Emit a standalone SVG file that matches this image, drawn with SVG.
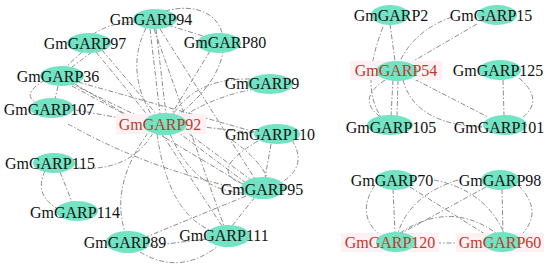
<svg xmlns="http://www.w3.org/2000/svg" width="550" height="269" viewBox="0 0 550 269">
<style>
.e{fill:none;stroke:#8c8c8c;stroke-width:1;stroke-dasharray:5 2 1.5 2}
.n{fill:#72e3c3}
.hl{fill:#fff0f4}
.t{font-family:"Liberation Serif","Times New Roman",serif;font-size:16px;fill:#111;text-anchor:middle}
.r{fill:#c0392b}
</style>
<rect width="550" height="269" fill="#fff"/>
<g id="edges">
<path class="e" d="M137,22 Q110,22 92,35"/>
<path class="e" d="M168,25 L206,37"/>
<path class="e" d="M165,11 C230,-6 250,60 178,115"/>
<path class="e" d="M150,29 L160,114"/>
<path class="e" d="M156,29 L166,114"/>
<path class="e" d="M146,28 Q125,70 152,116"/>
<path class="e" d="M160,29 L255,179"/>
<path class="e" d="M154,29 L224,226"/>
<path class="e" d="M210,51 L171,115"/>
<path class="e" d="M250,79 Q195,78 172,116"/>
<path class="e" d="M255,89 Q215,96 182,117"/>
<path class="e" d="M96,52 L150,118"/>
<path class="e" d="M102,50 L157,115"/>
<path class="e" d="M82,52 L66,67"/>
<path class="e" d="M92,52 L72,67"/>
<path class="e" d="M70,83 L146,120"/>
<path class="e" d="M72,86 L148,127"/>
<path class="e" d="M75,84 L246,186"/>
<path class="e" d="M78,82 L255,132"/>
<path class="e" d="M58,86 L55,99"/>
<path class="e" d="M45,80 Q18,96 40,104"/>
<path class="e" d="M76,110 L142,122"/>
<path class="e" d="M68,124 Q150,170 246,190"/>
<path class="e" d="M153,133 Q130,172 78,168"/>
<path class="e" d="M175,130 L246,183"/>
<path class="e" d="M181,128 L251,180"/>
<path class="e" d="M170,134 Q195,192 245,193"/>
<path class="e" d="M162,134 L222,226"/>
<path class="e" d="M157,134 Q168,212 210,230"/>
<path class="e" d="M186,125 L255,133"/>
<path class="e" d="M271,144 L265,178"/>
<path class="e" d="M292,140 Q308,166 282,182"/>
<path class="e" d="M258,141 Q205,172 246,185"/>
<path class="e" d="M232,140 Q260,160 268,179"/>
<path class="e" d="M246,196 L146,237"/>
<path class="e" d="M255,197 L232,226"/>
<path class="e" d="M150,246 L206,239"/>
<path class="e" d="M140,252 Q180,276 218,246"/>
<path class="e" d="M60,172 L72,202"/>
<path class="e" d="M45,171 Q33,196 60,210"/>
<path class="e" d="M148,133 Q110,185 125,232"/>
<path class="e" d="M390,24 L395,61"/>
<path class="e" d="M383,27 Q360,85 381,117"/>
<path class="e" d="M477,24 L410,63"/>
<path class="e" d="M452,17 Q415,30 400,61"/>
<path class="e" d="M393,80 L391,116"/>
<path class="e" d="M398,80 L397,116"/>
<path class="e" d="M414,79 L488,117"/>
<path class="e" d="M403,80 Q415,125 484,127"/>
<path class="e" d="M385,80 Q355,100 382,118"/>
<path class="e" d="M503,80 L504,116"/>
<path class="e" d="M519,78 Q545,100 522,118"/>
<path class="e" d="M393,189 L395,233"/>
<path class="e" d="M375,185 Q355,215 381,236"/>
<path class="e" d="M502,189 L503,233"/>
<path class="e" d="M518,185 Q545,212 520,236"/>
<path class="e" d="M410,187 L488,236"/>
<path class="e" d="M486,187 L400,234"/>
<path class="e" d="M436,243 L458,243"/>
<path class="e" d="M400,233 Q450,200 496,233"/>
<path class="e" d="M434,180 Q485,190 504,233"/>
<path class="e" d="M458,180 Q410,195 398,233"/>
</g>
<g id="n94"><ellipse class="n" cx="155" cy="19" rx="22" ry="10"/><text class="t" x="151" y="25">GmGARP94</text></g>
<g id="n97"><ellipse class="n" cx="89" cy="43" rx="22" ry="10"/><text class="t" x="85" y="49">GmGARP97</text></g>
<g id="n80"><ellipse class="n" cx="219" cy="43" rx="22" ry="10"/><text class="t" x="225" y="48">GmGARP80</text></g>
<g id="n36"><ellipse class="n" cx="62" cy="76" rx="22" ry="10"/><text class="t" x="58" y="82">GmGARP36</text></g>
<g id="n9"><ellipse class="n" cx="270" cy="84" rx="23" ry="10"/><text class="t" x="262" y="89">GmGARP9</text></g>
<g id="n107"><ellipse class="n" cx="52" cy="108" rx="22" ry="10"/><text class="t" x="49" y="115">GmGARP107</text></g>
<g id="n92"><rect class="hl" x="116" y="114" width="90" height="20"/><ellipse class="n" cx="165" cy="124" rx="22" ry="11"/><text class="t r" x="160" y="130">GmGARP92</text></g>
<g id="n110"><ellipse class="n" cx="277" cy="134" rx="23" ry="10"/><text class="t" x="270" y="140">GmGARP110</text></g>
<g id="n115"><ellipse class="n" cx="54" cy="163" rx="21" ry="10"/><text class="t" x="50" y="169">GmGARP115</text></g>
<g id="n95"><ellipse class="n" cx="263" cy="188" rx="22" ry="11"/><text class="t" x="262" y="195">GmGARP95</text></g>
<g id="n114"><ellipse class="n" cx="77" cy="211" rx="21" ry="10"/><text class="t" x="75" y="218">GmGARP114</text></g>
<g id="n89"><ellipse class="n" cx="128" cy="242" rx="22" ry="11"/><text class="t" x="125" y="248">GmGARP89</text></g>
<g id="n111"><ellipse class="n" cx="228" cy="236" rx="22" ry="11"/><text class="t" x="224" y="241">GmGARP111</text></g>
<g id="n2"><ellipse class="n" cx="390" cy="15" rx="19" ry="10"/><text class="t" x="391" y="21">GmGARP2</text></g>
<g id="n15"><ellipse class="n" cx="497" cy="15" rx="20" ry="10"/><text class="t" x="491" y="21">GmGARP15</text></g>
<g id="n54"><rect class="hl" x="350" y="61" width="92" height="19"/><ellipse class="n" cx="397" cy="71" rx="21" ry="10"/><text class="t r" x="396" y="76">GmGARP54</text></g>
<g id="n125"><ellipse class="n" cx="500" cy="70" rx="21" ry="10"/><text class="t" x="498" y="76">GmGARP125</text></g>
<g id="n105"><ellipse class="n" cx="390" cy="125" rx="23" ry="10"/><text class="t" x="391" y="133">GmGARP105</text></g>
<g id="n101"><ellipse class="n" cx="505" cy="125" rx="22" ry="10"/><text class="t" x="499" y="133">GmGARP101</text></g>
<g id="n70"><ellipse class="n" cx="395" cy="180" rx="20" ry="10"/><text class="t" x="392" y="186">GmGARP70</text></g>
<g id="n98"><ellipse class="n" cx="500" cy="180" rx="19" ry="10"/><text class="t" x="500" y="186">GmGARP98</text></g>
<g id="n120"><rect class="hl" x="341" y="233" width="98" height="19"/><ellipse class="n" cx="396" cy="242" rx="20" ry="10"/><text class="t r" x="390" y="248">GmGARP120</text></g>
<g id="n60"><rect class="hl" x="456" y="233" width="88" height="19"/><ellipse class="n" cx="502" cy="242" rx="19" ry="10"/><text class="t r" x="500" y="248">GmGARP60</text></g>
</svg>
